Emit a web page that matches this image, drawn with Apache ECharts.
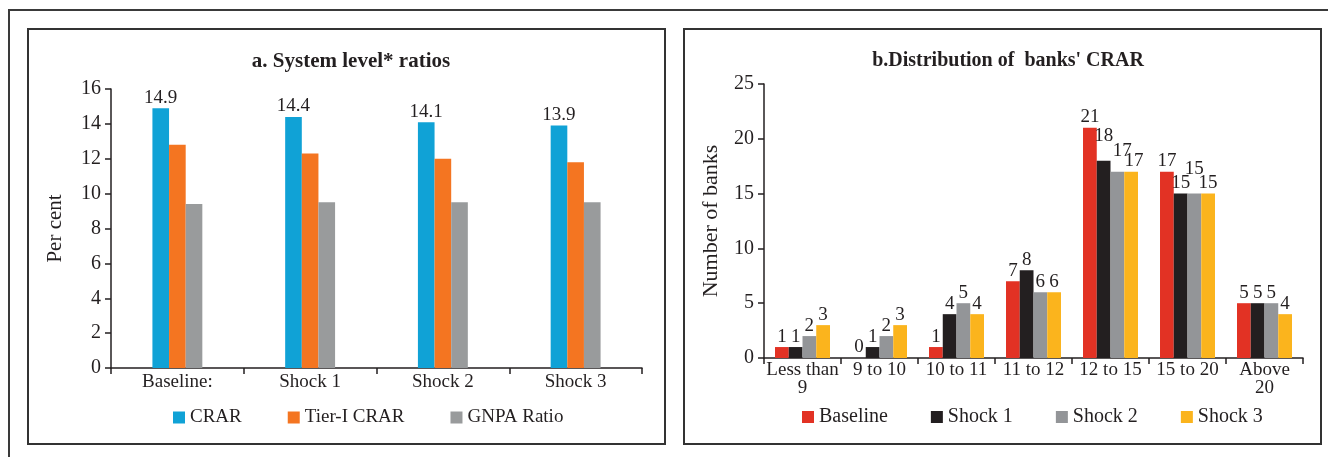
<!DOCTYPE html>
<html>
<head>
<meta charset="utf-8">
<script src="https://cdn.jsdelivr.net/npm/echarts@6/dist/echarts.min.js"></script>
<style>
  html, body { margin: 0; padding: 0; background: #ffffff; }
  #chart { width: 1328px; height: 457px; }
</style>
</head>
<body>
<div id="chart"></div>
<script>
// Panel a: system level ratios (per cent)
const scenarioLabels = ['Baseline:', 'Shock 1', 'Shock 2', 'Shock 3'];
const crar = [14.9, 14.4, 14.1, 13.9];
const tier1Crar = [12.8, 12.3, 12.0, 11.8];
const gnpaRatio = [9.4, 9.5, 9.5, 9.5];

// Panel b: distribution of banks by CRAR bucket (number of banks)
const crarBuckets = ['Less than\n9', '9 to 10', '10 to 11', '11 to 12', '12 to 15', '15 to 20', 'Above\n20'];
const banksBaseline = [1, 0, 1, 7, 21, 17, 5];
const banksShock1 = [1, 1, 4, 8, 18, 15, 5];
const banksShock2 = [2, 2, 5, 6, 17, 15, 5];
const banksShock3 = [3, 3, 4, 6, 17, 15, 4];

// Labels lifted above their neighbours so two-digit counts don't collide
const liftedLabels = { 'Shock 1': { 4: 14 }, 'Shock 2': { 4: 10, 5: 14 } };
const shiftedLabels = { 'Shock 2': { 4: 5 }, 'Shock 3': { 4: 3 } };

const FONT = 'Liberation Serif';
const INK = '#231F20';

function bankSeries(name, values, color) {
  const lift = liftedLabels[name] || {};
  const shift = shiftedLabels[name] || {};
  return {
    name: name,
    type: 'bar',
    xAxisIndex: 1,
    yAxisIndex: 1,
    barGap: '0%',
    barCategoryGap: '28.6%',
    itemStyle: { color: color },
    label: {
      show: true, position: 'top', distance: 1,
      fontFamily: FONT, fontSize: 19, color: INK
    },
    data: values.map(function (v, i) {
      const item = { value: v };
      if (lift[i] || shift[i]) {
        item.label = { offset: [shift[i] || 0, -(lift[i] || 0)] };
      }
      return item;
    })
  };
}

const chart = echarts.init(document.getElementById('chart'), null, { renderer: 'canvas' });

const axisLineStyle = { color: INK, width: 1.5 };

chart.setOption({
  animation: false,
  backgroundColor: '#ffffff',
  textStyle: { fontFamily: FONT, color: INK },
  graphic: [
    { type: 'polyline', shape: { points: [[9, 457], [9, 10], [1328, 10]] },
      style: { stroke: '#3a3a3a', lineWidth: 2, fill: null } },
    { type: 'rect', shape: { x: 28, y: 29, width: 637, height: 415 },
      style: { stroke: '#333333', lineWidth: 2, fill: null } },
    { type: 'rect', shape: { x: 684, y: 29, width: 637, height: 415 },
      style: { stroke: '#333333', lineWidth: 2, fill: null } }
  ],
  title: [
    { text: 'a. System level* ratios', left: 346, top: 46, textAlign: 'center',
      textStyle: { fontFamily: FONT, fontWeight: 'bold', fontSize: 21, color: INK } },
    { text: "b.Distribution of  banks' CRAR", left: 1003, top: 46, textAlign: 'center',
      textStyle: { fontFamily: FONT, fontWeight: 'bold', fontSize: 20, color: INK } }
  ],
  legend: [
    { data: ['CRAR', 'Tier-I CRAR', 'GNPA Ratio'], left: 173, top: 408, padding: 0,
      icon: 'rect', itemWidth: 12, itemHeight: 12, itemGap: 46,
      textStyle: { fontFamily: FONT, fontSize: 19, color: INK } },
    { data: ['Baseline', 'Shock 1', 'Shock 2', 'Shock 3'], left: 802, top: 407, padding: 0,
      icon: 'rect', itemWidth: 12, itemHeight: 12, itemGap: 43,
      textStyle: { fontFamily: FONT, fontSize: 20, color: INK } }
  ],
  grid: [
    { left: 111, top: 89, width: 531, height: 279 },
    { left: 764, top: 84, width: 539, height: 274 }
  ],
  xAxis: [
    { type: 'category', gridIndex: 0, data: scenarioLabels,
      axisLine: { lineStyle: axisLineStyle },
      axisTick: { show: true, length: 6, lineStyle: axisLineStyle },
      axisLabel: { fontFamily: FONT, fontSize: 19, color: INK, margin: 5, interval: 0 } },
    { type: 'category', gridIndex: 1, data: crarBuckets,
      axisLine: { lineStyle: axisLineStyle },
      axisTick: { show: true, length: 6, lineStyle: axisLineStyle },
      axisLabel: { fontFamily: FONT, fontSize: 19, color: INK, margin: 3, interval: 0, lineHeight: 18 } }
  ],
  yAxis: [
    { type: 'value', gridIndex: 0, min: 0, max: 16, interval: 2,
      name: 'Per cent', nameLocation: 'middle', nameGap: 45, nameRotate: 90,
      nameTextStyle: { fontFamily: FONT, fontSize: 21, color: INK },
      axisLine: { show: true, lineStyle: axisLineStyle },
      axisTick: { show: true, length: 6, lineStyle: axisLineStyle },
      splitLine: { show: false },
      axisLabel: { fontFamily: FONT, fontSize: 20, color: INK, margin: 10 } },
    { type: 'value', gridIndex: 1, min: 0, max: 25, interval: 5,
      name: 'Number of banks', nameLocation: 'middle', nameGap: 42, nameRotate: 90,
      nameTextStyle: { fontFamily: FONT, fontSize: 22, color: INK },
      axisLine: { show: true, lineStyle: axisLineStyle },
      axisTick: { show: true, length: 6, lineStyle: axisLineStyle },
      splitLine: { show: false },
      axisLabel: { fontFamily: FONT, fontSize: 20, color: INK, margin: 10 } }
  ],
  series: [
    { name: 'CRAR', type: 'bar', xAxisIndex: 0, yAxisIndex: 0,
      barGap: '0%', barCategoryGap: '62.4%',
      itemStyle: { color: '#10A2D6' },
      label: { show: true, position: 'top', distance: 1, fontFamily: FONT, fontSize: 19, color: INK },
      data: crar },
    { name: 'Tier-I CRAR', type: 'bar', xAxisIndex: 0, yAxisIndex: 0,
      barGap: '0%', barCategoryGap: '62.4%',
      itemStyle: { color: '#F47521' },
      data: tier1Crar },
    { name: 'GNPA Ratio', type: 'bar', xAxisIndex: 0, yAxisIndex: 0,
      barGap: '0%', barCategoryGap: '62.4%',
      itemStyle: { color: '#999B9C' },
      data: gnpaRatio },
    bankSeries('Baseline', banksBaseline, '#E23224'),
    bankSeries('Shock 1', banksShock1, '#231F20'),
    bankSeries('Shock 2', banksShock2, '#939598'),
    bankSeries('Shock 3', banksShock3, '#FBB41D')
  ]
});
</script>
</body>
</html>
